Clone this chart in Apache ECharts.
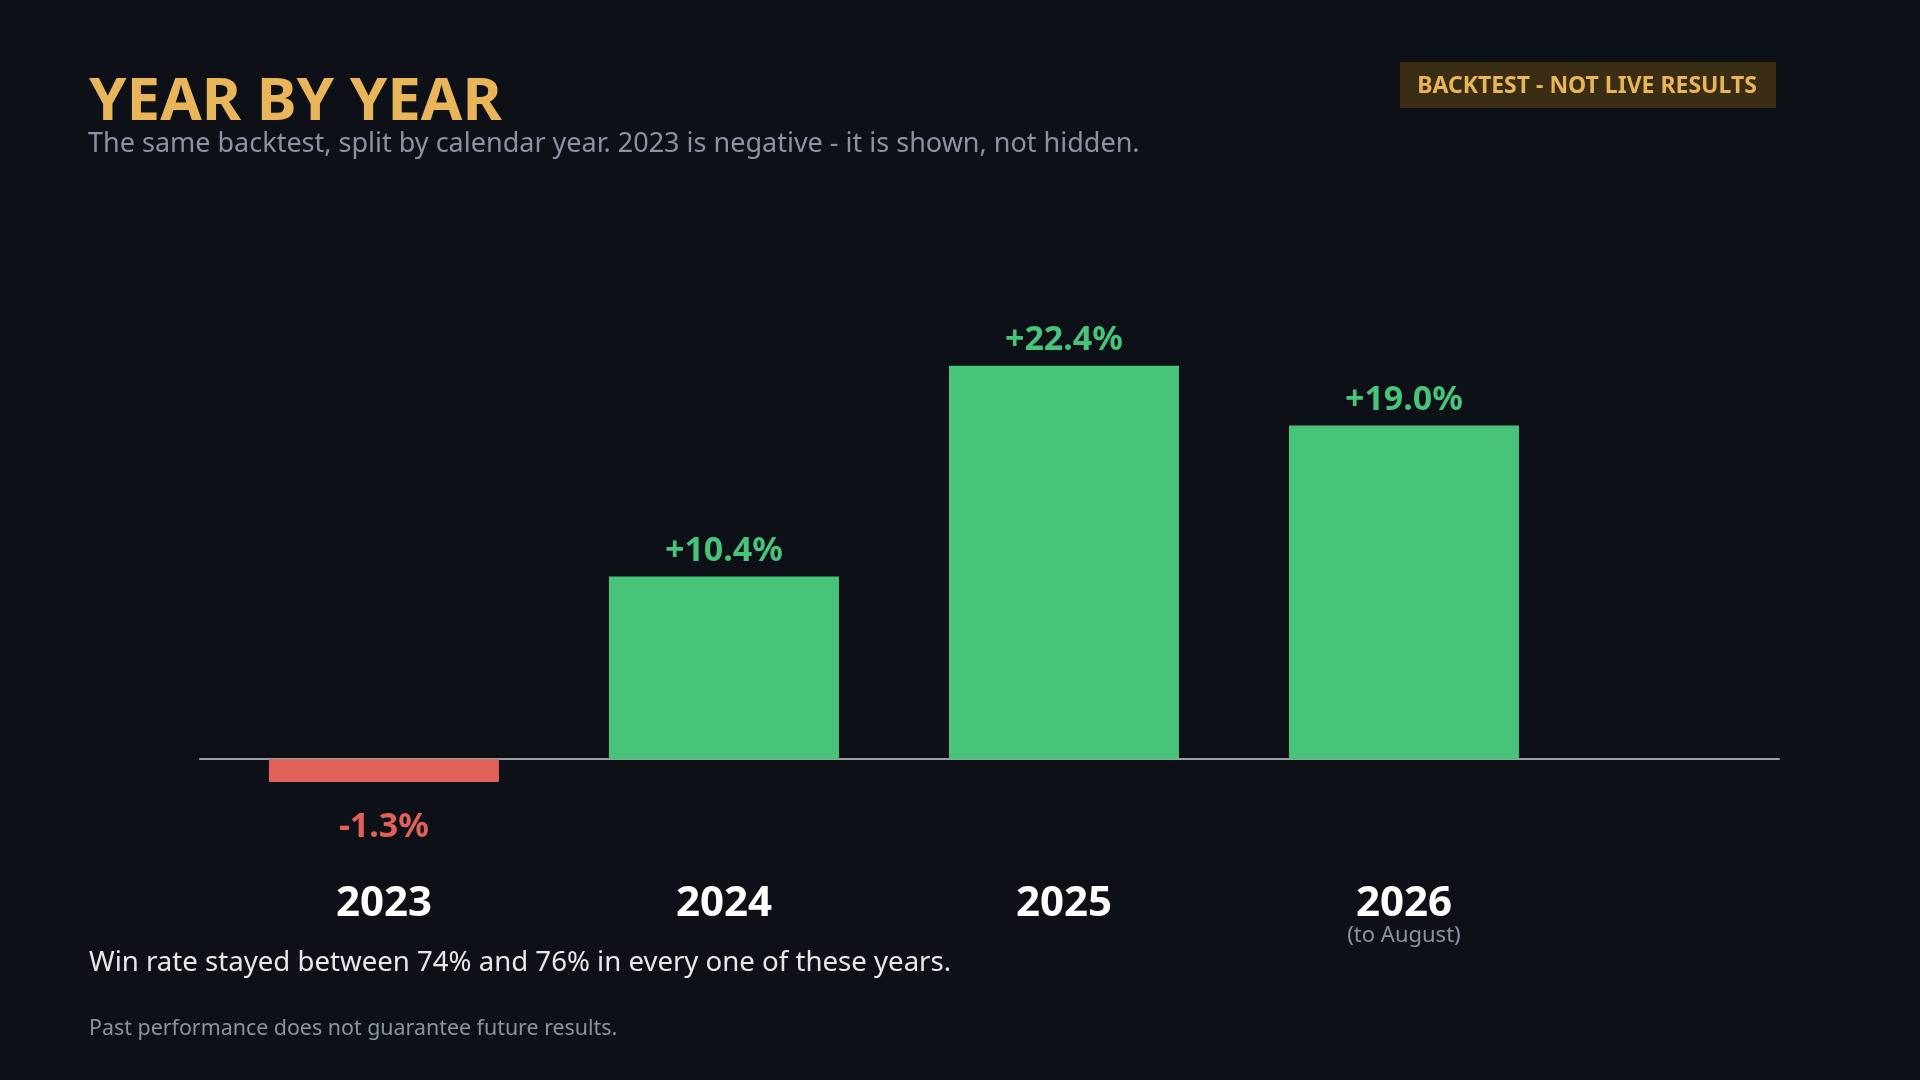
<!DOCTYPE html>
<html>
<head>
<meta charset="utf-8">
<script src="https://cdn.jsdelivr.net/npm/echarts@6/dist/echarts.min.js"></script>
<style>
html,body{margin:0;padding:0;background:#0d1017;}
#main{width:1920px;height:1080px;}
</style>
</head>
<body>
<div id="main"></div>
<script>
var years = ['2023', '2024', '2025', '2026'];
var yearNotes = ['', '', '', '(to August)'];
var returns = [-1.3, 10.4, 22.4, 19.0];

var GREEN = '#47c47a', RED = '#e0605a';
var FONT = '"Noto Sans", "Open Sans", sans-serif';

var myChart = echarts.init(document.getElementById('main'));

var barData = returns.map(function (v, i) {
    return {
        value: [i, v],
        itemStyle: { color: v < 0 ? RED : GREEN },
        label: {
            position: v < 0 ? 'bottom' : 'top',
            distance: v < 0 ? 28 : 8,
            color: v < 0 ? RED : GREEN
        }
    };
});

option = {
    backgroundColor: '#0d1017',
    textStyle: { fontFamily: FONT },
    title: [
        {
            text: 'YEAR BY YEAR', left: 84, top: 68,
            textStyle: { color: '#e8b55a', fontSize: 60, fontWeight: 'bold', fontFamily: FONT }
        },
        {
            text: 'The same backtest, split by calendar year. 2023 is negative - it is shown, not hidden.',
            left: 83, top: 126,
            textStyle: { color: '#8b93a1', fontSize: 27, fontWeight: 'normal', fontFamily: FONT }
        },
        {
            text: 'Win rate stayed between 74% and 76% in every one of these years.',
            left: 84, top: 944,
            textStyle: { color: '#e8e8e8', fontSize: 27.6, fontWeight: 'normal', fontFamily: FONT }
        },
        {
            text: 'Past performance does not guarantee future results.',
            left: 84, top: 1013,
            textStyle: { color: '#8b93a1', fontSize: 21.4, fontWeight: 'normal', fontFamily: FONT }
        }
    ],
    graphic: [{
        type: 'group', left: 1400, top: 62,
        children: [
            { type: 'rect', shape: { x: 0, y: 0, width: 376, height: 46 }, style: { fill: '#3a2d14' } },
            { type: 'text', x: 187, y: 24, style: {
                text: 'BACKTEST - NOT LIVE RESULTS', fill: '#e8b55a',
                font: 'bold 23px ' + FONT, textAlign: 'center', textVerticalAlign: 'middle' } }
        ]
    }],
    grid: { left: 200, right: 141, top: 320, bottom: 233 },
    xAxis: {
        type: 'value',
        min: -0.541, max: 4.103,
        splitLine: { show: false },
        axisLine: { onZero: true, lineStyle: { color: '#9aa0a6', width: 2 } },
        axisTick: { show: false },
        axisLabel: {
            customValues: [0, 1, 2, 3],
            margin: 35,
            formatter: function (v) {
                var i = Math.round(v);
                return yearNotes[i] ? '{y|' + years[i] + '}\n{s|' + yearNotes[i] + '}' : '{y|' + years[i] + '}';
            },
            rich: {
                y: { color: '#ffffff', fontSize: 42, fontWeight: 'bold', fontFamily: FONT, lineHeight: 44 },
                s: { color: '#8b93a1', fontSize: 22, fontFamily: FONT, lineHeight: 20 }
            }
        }
    },
    yAxis: { type: 'value', min: -5, max: 25, show: false, splitLine: { show: false } },
    series: [{
        type: 'bar',
        barWidth: 230,
        data: barData,
        label: {
            show: true,
            fontSize: 34, fontWeight: 'bold', fontFamily: FONT,
            formatter: function (p) {
                var v = p.value[1];
                return (v > 0 ? '+' : '') + v.toFixed(1) + '%';
            }
        }
    }]
};

myChart.setOption(option);
window.addEventListener("resize", function () {
    myChart.resize();
});
</script>
</body>
</html>
